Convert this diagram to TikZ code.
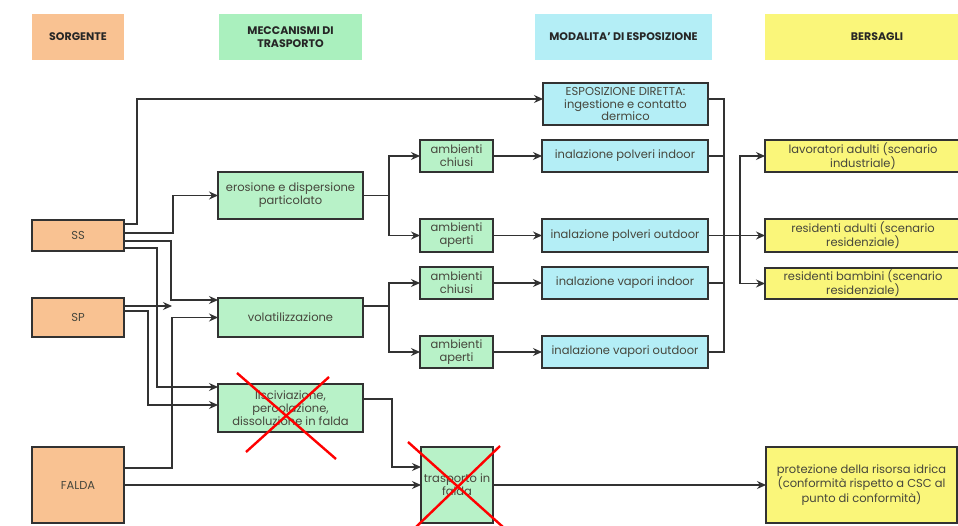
\documentclass[tikz,border=0pt]{standalone}
\usepackage{fontspec}
\setmainfont{Poppins}
\usetikzlibrary{calc,arrows.meta}
\definecolor{corange}{RGB}{249,194,146}
\definecolor{cgreen}{RGB}{184,242,200}
\definecolor{cgreenh}{RGB}{170,240,190}
\definecolor{ccyan}{RGB}{180,238,246}
\definecolor{cyell}{RGB}{250,246,122}
\definecolor{cline}{RGB}{50,50,50}
\definecolor{ctext}{RGB}{70,70,60}
\tikzset{
  x=1pt,y=-1pt,
  hdr/.style={inner sep=0pt,outer sep=0pt,align=center,font=\fontsize{11}{13}\selectfont\bfseries,text=black!85},
  bx/.style={draw=cline,line width=1.1pt,inner sep=1pt,outer sep=0pt,align=center,text=ctext,font=\fontsize{11.5}{12.8}\selectfont},
  wire/.style={draw=cline,line width=1.1pt},
  arr/.style={wire,-{Stealth[length=9pt,width=8pt,inset=3pt]}},
  cross/.style={draw=red,line width=2.4pt},
}
\begin{document}
\begin{tikzpicture}
\useasboundingbox[fill=white] (0,0) rectangle (958,526);
% headers
\node[hdr,fill=corange,minimum width=92,minimum height=46] (hS) at (78,37) {SORGENTE};
\node[hdr,fill=cgreenh,minimum width=143,minimum height=46] (hM) at (290.5,37) {MECCANISMI DI\\TRASPORTO};
\node[hdr,fill=ccyan,minimum width=177,minimum height=46] (hE) at (623.5,37) {MODALITA' DI ESPOSIZIONE};
\node[hdr,fill=cyell,minimum width=224,minimum height=46] (hB) at (877,37) {BERSAGLI};
% sources
\node[bx,fill=corange,minimum width=92,minimum height=31] (SS) at (78,235.5) {SS};
\node[bx,fill=corange,minimum width=92,minimum height=39] (SP) at (78,317.5) {SP};
\node[bx,fill=corange,minimum width=92,minimum height=76] (FALDA) at (78,485) {FALDA};
% transport
\node[bx,fill=cgreen,minimum width=145,minimum height=47] (ero) at (290.5,195.5) {erosione e dispersione\\particolato};
\node[bx,fill=cgreen,minimum width=145,minimum height=39] (vol) at (290.5,317.5) {volatilizzazione};
\node[bx,fill=cgreen,minimum width=145,minimum height=48] (lis) at (290.5,408) {lisciviazione,\\percolazione,\\dissoluzione in falda};
\node[bx,fill=cgreen,minimum width=72,minimum height=76] (tra) at (457,485) {trasporto in\\falda};
\node[bx,fill=cgreen,minimum width=73,minimum height=32] (ac1) at (456.5,156) {ambienti\\chiusi};
\node[bx,fill=cgreen,minimum width=73,minimum height=33] (aa1) at (456.5,235.5) {ambienti\\aperti};
\node[bx,fill=cgreen,minimum width=73,minimum height=32] (ac2) at (456.5,283) {ambienti\\chiusi};
\node[bx,fill=cgreen,minimum width=73,minimum height=32] (aa2) at (456.5,352) {ambienti\\aperti};
% exposure
\node[bx,fill=ccyan,minimum width=165,minimum height=42] (ESP) at (625.5,104) {ESPOSIZIONE DIRETTA:\\ingestione e contatto\\dermico};
\node[bx,fill=ccyan,minimum width=166,minimum height=32] (ipi) at (625,156) {inalazione polveri indoor};
\node[bx,fill=ccyan,minimum width=166,minimum height=33] (ipo) at (625,235.5) {inalazione polveri outdoor};
\node[bx,fill=ccyan,minimum width=166,minimum height=32] (ivi) at (625,283) {inalazione vapori indoor};
\node[bx,fill=ccyan,minimum width=166,minimum height=32] (ivo) at (625,352) {inalazione vapori outdoor};
% targets
\node[bx,fill=cyell,minimum width=196,minimum height=32] (lav) at (863,156) {lavoratori adulti (scenario\\industriale)};
\node[bx,fill=cyell,minimum width=196,minimum height=33] (resA) at (863,235.5) {residenti adulti (scenario\\residenziale)};
\node[bx,fill=cyell,minimum width=196,minimum height=31] (resB) at (863,283.5) {residenti bambini (scenario\\residenziale)};
\node[bx,fill=cyell,minimum width=191,minimum height=76] (prot) at (861.5,485) {protezione della risorsa idrica\\(conformità rispetto a CSC al\\punto di conformità)};
% connectors from SS
\draw[arr] ($(SS.north east)+(0,4)$) -- ++(13,0) |- ($(ESP.north west)+(0,16)$);
\draw[arr] ($(SS.north east)+(0,13)$) -- ++(49,0) |- (ero.west);
\draw[arr] ($(SS.north east)+(0,21)$) -- ++(47,0) |- ($(vol.north west)+(0,2)$);
\draw[arr] ($(SS.north east)+(0,28)$) -- ++(33,0) |- ($(lis.north west)+(0,3)$);
% from SP
\coordinate (spend) at (172,306);
\draw[arr] (SP.east |- spend) -- (spend);
\draw[arr] ($(SP.north east)+(0,13)$) -- ++(24,0) |- ($(lis.north west)+(0,21)$);
% from FALDA
\draw[arr] ($(FALDA.north east)+(0,21)$) -- ++(48,0) |- (vol.west);
\draw[arr] (FALDA.east) -- (tra.west);
\draw[arr] ($(lis.north east)+(0,15)$) -- ++(29,0) |- ($(tra.north west)+(0,20)$);
\draw[arr] (tra.east) -- (prot.west);
% to ambienti
\draw[arr] (ero.east) -- ++(26,0) |- (ac1.west);
\draw[arr] (ero.east) -- ++(26,0) |- (aa1.west);
\draw[arr] ($(vol.north east)+(0,8)$) -- ++(26,0) |- (ac2.west);
\draw[arr] ($(vol.north east)+(0,8)$) -- ++(26,0) |- (aa2.west);
\draw[arr] (ac1) -- (ipi);
\draw[arr] (aa1) -- (ipo);
\draw[arr] (ac2) -- (ivi);
\draw[arr] (aa2) -- (ivo);
% collector
\coordinate (ct) at (724,99);
\coordinate (cb) at (724,352);
\draw[wire] ($(ESP.north east)+(0,16)$) -- (ct) -- (cb) -- (ivo.east);
\draw[wire] (ipi.east) -- (ipi.east -| ct);
\draw[wire] (ivi.east) -- (ivi.east -| ct);
\draw[arr] (ipo.east) -- (resA.west);
\coordinate (dv) at (740,235.5);
\draw[arr] (dv) |- (lav.west);
\draw[arr] (dv) |- (resB.west);
% red crosses
\draw[cross] (237,373) -- (336,459);
\draw[cross] (329,377) -- (246,452);
\draw[cross] (408,442) -- (503,527);
\draw[cross] (500,446) -- (416,527);
\end{tikzpicture}
\end{document}
